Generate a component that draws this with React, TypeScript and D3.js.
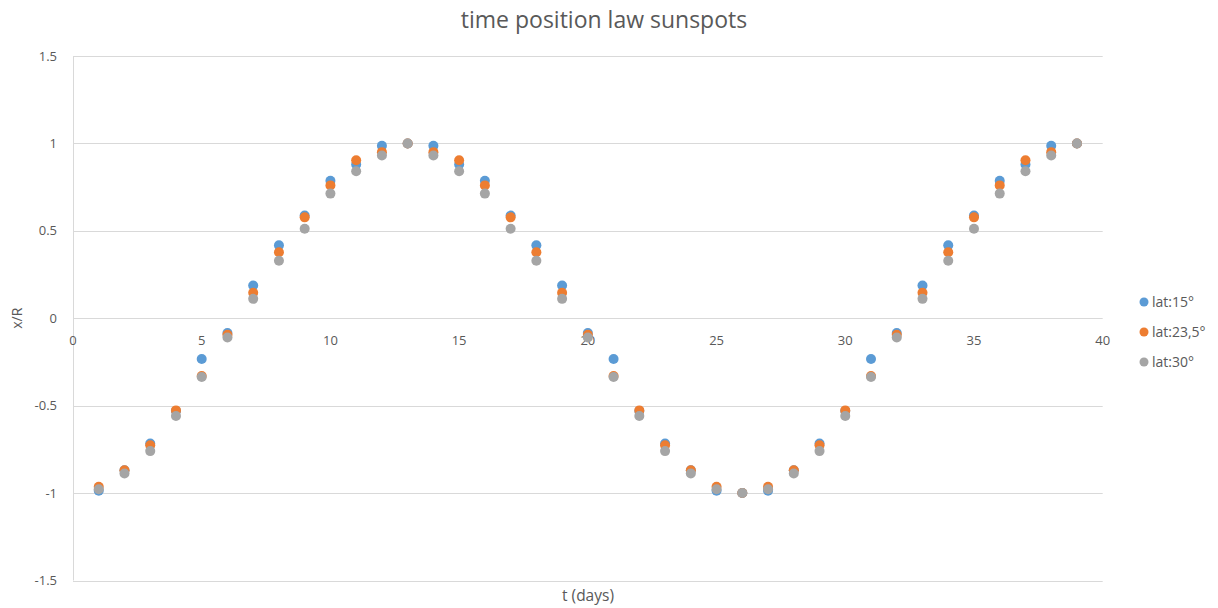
import React from "react";
import * as d3 from "d3";

// Days since start of observation
const days: number[] = [
  1, 2, 3, 4, 5, 6, 7, 8, 9, 10, 11, 12, 13, 14, 15, 16, 17, 18, 19, 20,
  21, 22, 23, 24, 25, 26, 27, 28, 29, 30, 31, 32, 33, 34, 35, 36, 37, 38, 39,
];

// Normalised position x/R for each latitude
const lat15: number[] = [
  -0.987, -0.87, -0.716, -0.53, -0.233, -0.085, 0.187, 0.417, 0.587, 0.786, 0.879, 0.986, 1,
  0.986, 0.879, 0.786, 0.587, 0.417, 0.187, -0.085, -0.233, -0.53, -0.716, -0.87, -0.987,
  -1, -0.987, -0.87, -0.716, -0.53, -0.233, -0.085, 0.187, 0.417, 0.587, 0.786, 0.879, 0.986, 1,
];
const lat235: number[] = [
  -0.964, -0.869, -0.726, -0.527, -0.33, -0.095, 0.146, 0.377, 0.577, 0.76, 0.904, 0.95, 1,
  0.95, 0.904, 0.76, 0.577, 0.377, 0.146, -0.095, -0.33, -0.527, -0.726, -0.869, -0.964,
  -1, -0.964, -0.869, -0.726, -0.527, -0.33, -0.095, 0.146, 0.377, 0.577, 0.76, 0.904, 0.95, 1,
];
const lat30: number[] = [
  -0.978, -0.888, -0.76, -0.559, -0.336, -0.11, 0.111, 0.329, 0.512, 0.713, 0.841, 0.931, 1,
  0.931, 0.841, 0.713, 0.512, 0.329, 0.111, -0.11, -0.336, -0.559, -0.76, -0.888, -0.978,
  -1, -0.978, -0.888, -0.76, -0.559, -0.336, -0.11, 0.111, 0.329, 0.512, 0.713, 0.841, 0.931, 1,
];

const seriesNames: string[] = ["lat:15°", "lat:23,5°", "lat:30°"];
const seriesColors: string[] = ["#5B9BD5", "#ED7D31", "#A5A5A5"];
const xTicks: number[] = [0, 5, 10, 15, 20, 25, 30, 35, 40];
const yTicks: number[] = [-1.5, -1, -0.5, 0, 0.5, 1, 1.5];

const W = 1218;
const H = 608;
const FONT = "'Open Sans', Lato, 'Liberation Sans', sans-serif";
const TEXT = "#595959";

export default function App() {
  const x = d3.scaleLinear().domain([0, 40]).range([73, 1102.7]);
  const y = d3.scaleLinear().domain([-1.5, 1.5]).range([580.5, 56]);
  const fmt = (v: number) => String(v);
  const series = [lat15, lat235, lat30];

  return (
    <svg
      width={W}
      height={H}
      style={{ position: "absolute", left: 0, top: 0, background: "#fff" }}
      fontFamily={FONT}
    >
      <rect width={W} height={H} fill="#fff" />
      <text x={604} y={28} textAnchor="middle" fontSize={23} fill={TEXT}>
        time position law sunspots
      </text>

      {/* horizontal gridlines */}
      {yTicks.map((t) => (
        <line
          key={"g" + t}
          x1={x(0)}
          x2={x(40)}
          y1={Math.round(y(t)) + 0.5}
          y2={Math.round(y(t)) + 0.5}
          stroke="#D9D9D9"
          strokeWidth={1}
        />
      ))}
      {/* value axis line */}
      <line
        x1={Math.round(x(0)) + 0.5}
        x2={Math.round(x(0)) + 0.5}
        y1={y(1.5)}
        y2={y(-1.5)}
        stroke="#D9D9D9"
      />

      {/* y tick labels */}
      {yTicks.map((t) => (
        <text
          key={"yl" + t}
          x={57}
          y={y(t)}
          dy="0.35em"
          textAnchor="end"
          fontSize={13}
          fill={TEXT}
        >
          {fmt(t)}
        </text>
      ))}
      {/* x tick labels along the zero line */}
      {xTicks.map((t) => (
        <text
          key={"xl" + t}
          x={x(t)}
          y={y(0) + 27}
          textAnchor="middle"
          fontSize={13}
          fill={TEXT}
        >
          {fmt(t)}
        </text>
      ))}

      {/* axis titles */}
      <text
        transform={`translate(22,${y(0)}) rotate(-90)`}
        textAnchor="middle"
        fontSize={14}
        fill={TEXT}
      >
        x/R
      </text>
      <text x={588} y={601} textAnchor="middle" fontSize={15.5} fill={TEXT}>
        t (days)
      </text>

      {/* markers */}
      {series.map((vals, si) => (
        <g key={"s" + si} fill={seriesColors[si]}>
          {days.map((d, i) => (
            <circle key={i} cx={x(d)} cy={y(vals[i])} r={5} />
          ))}
        </g>
      ))}

      {/* legend */}
      {seriesNames.map((name, i) => (
        <g key={"lg" + i} transform={`translate(1144,${302 + i * 30})`}>
          <circle r={4.5} fill={seriesColors[i]} />
          <text x={8} dy="0.35em" fontSize={14} fill={TEXT}>
            {name}
          </text>
        </g>
      ))}
    </svg>
  );
}
